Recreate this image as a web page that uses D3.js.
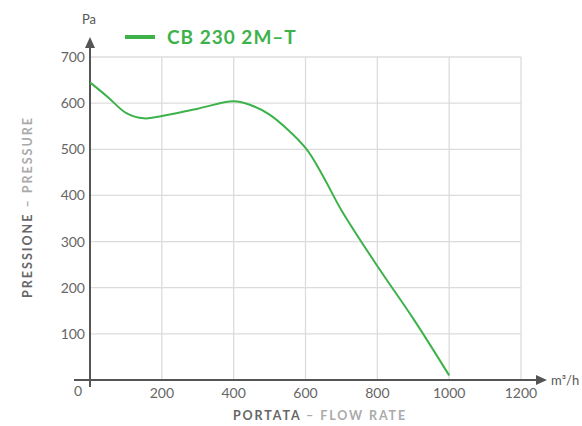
<!DOCTYPE html>
<html>
<head>
<meta charset="utf-8">
<script src="https://cdn.jsdelivr.net/npm/d3@7"></script>
<style>
  body { margin: 0; background: #fff; }
  svg { display: block; font-family: Lato, "Open Sans", sans-serif; }
</style>
</head>
<body>
<div class="chart"></div>
<script>
// flow rate (m3/h) and pressure (Pa)
var flow     = [0, 50, 100, 150, 200, 300, 400, 450, 500, 600, 650, 700, 800, 900, 1000];
var pressure = [645, 613, 579, 567, 572, 588, 604, 595, 575, 503, 440, 368, 247, 133, 10];
var xTicks = [200, 400, 600, 800, 1000, 1200];
var yTicks = [100, 200, 300, 400, 500, 600, 700];
var seriesName = "CB 230 2M\u2013T";

var width = 582, height = 426,
    margin = {top: 57, right: 61, bottom: 46, left: 90};

var svg = d3.select("div.chart").append("svg")
    .attr("width", width)
    .attr("height", height);

var x = d3.scaleLinear().domain([0, 1200]).range([margin.left, width - margin.right]);
var y = d3.scaleLinear().domain([0, 700]).range([height - margin.bottom, margin.top]);

var green = "#3db24b";

// grid
svg.append("g").selectAll("line.v")
    .data(xTicks)
  .enter().append("line")
    .attr("x1", function(d) { return x(d); })
    .attr("x2", function(d) { return x(d); })
    .attr("y1", y(0))
    .attr("y2", y(700))
    .attr("stroke", "#dcdcdc")
    .attr("stroke-width", 1.3);

svg.append("g").selectAll("line.h")
    .data(yTicks)
  .enter().append("line")
    .attr("x1", x(0))
    .attr("x2", x(1200))
    .attr("y1", function(d) { return y(d); })
    .attr("y2", function(d) { return y(d); })
    .attr("stroke", "#dcdcdc")
    .attr("stroke-width", 1.3);

// axes
var axisColor = "#555";
var xEnd = 536;

svg.append("line")
    .attr("x1", x(0) - 16).attr("x2", xEnd)
    .attr("y1", y(0)).attr("y2", y(0))
    .attr("stroke", axisColor).attr("stroke-width", 2);
svg.append("path")
    .attr("d", "M" + xEnd + "," + (y(0) - 5) + " L" + (xEnd + 11) + "," + y(0) + " L" + xEnd + "," + (y(0) + 5) + " z")
    .attr("fill", axisColor);

svg.append("line")
    .attr("x1", x(0)).attr("x2", x(0))
    .attr("y1", y(0) + 7).attr("y2", 47)
    .attr("stroke", axisColor).attr("stroke-width", 2);
svg.append("path")
    .attr("d", "M" + (x(0) - 5) + ",48 L" + x(0) + ",37 L" + (x(0) + 5) + ",48 z")
    .attr("fill", axisColor);

// tick labels
svg.append("g").selectAll("text")
    .data(xTicks)
  .enter().append("text")
    .attr("x", function(d) { return x(d); })
    .attr("y", y(0) + 18)
    .attr("text-anchor", "middle")
    .attr("fill", "#666")
    .attr("font-size", 14)
    .text(function(d) { return d; });

svg.append("text")
    .attr("x", x(0) - 12)
    .attr("y", y(0) + 16)
    .attr("text-anchor", "middle")
    .attr("fill", "#666")
    .attr("font-size", 14)
    .text("0");

svg.append("g").selectAll("text")
    .data(yTicks)
  .enter().append("text")
    .attr("x", x(0) - 5)
    .attr("y", function(d) { return y(d) + 5; })
    .attr("text-anchor", "end")
    .attr("fill", "#666")
    .attr("font-size", 14)
    .text(function(d) { return d; });

// units
svg.append("text")
    .attr("x", x(0) - 8).attr("y", 24)
    .attr("fill", "#555").attr("font-size", 13)
    .text("Pa");

svg.append("text")
    .attr("x", xEnd + 15).attr("y", y(0) + 5)
    .attr("fill", "#555").attr("font-size", 13)
    .text("m\u00b3/h");

// axis titles
var xt = svg.append("text")
    .attr("x", 320).attr("y", 420)
    .attr("text-anchor", "middle")
    .attr("font-size", 12.5)
    .attr("font-weight", "bold")
    .attr("letter-spacing", 1.9);
xt.append("tspan").attr("fill", "#666").text("PORTATA");
xt.append("tspan").attr("fill", "#aaa").text(" \u2013 FLOW RATE");

var yt = svg.append("text")
    .attr("transform", "translate(32," + 207 + ") rotate(-90)")
    .attr("text-anchor", "middle")
    .attr("font-size", 12.5)
    .attr("font-weight", "bold")
    .attr("letter-spacing", 2);
yt.append("tspan").attr("fill", "#666").text("PRESSIONE");
yt.append("tspan").attr("fill", "#aaa").text(" \u2013 PRESSURE");

// curve
var data = flow.map(function(f, i) { return {flow: f, pressure: pressure[i]}; });
var line = d3.line()
    .x(function(d) { return x(d.flow); })
    .y(function(d) { return y(d.pressure); })
    .curve(d3.curveCatmullRom.alpha(0.5));

svg.append("path")
    .datum(data)
    .attr("fill", "none")
    .attr("stroke", green)
    .attr("stroke-width", 2)
    .attr("stroke-linejoin", "round")
    .attr("d", line);

// legend
svg.append("line")
    .attr("x1", 125).attr("x2", 155)
    .attr("y1", 37).attr("y2", 37)
    .attr("stroke", green).attr("stroke-width", 4);
svg.append("text")
    .attr("x", 167).attr("y", 44)
    .attr("fill", green)
    .attr("font-size", 19)
    .attr("font-weight", "bold")
    .attr("letter-spacing", 1)
    .text(seriesName);
</script>
</body>
</html>
